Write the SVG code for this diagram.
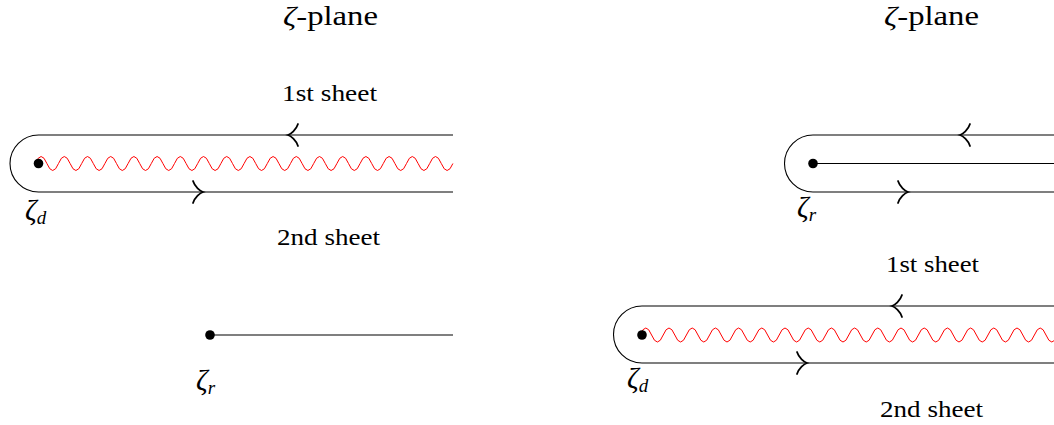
<svg xmlns="http://www.w3.org/2000/svg" width="1054" height="425" viewBox="0 0 1054 425">
<style>
.ln{fill:none;stroke:#000;stroke-width:1.1}
.wv{fill:none;stroke:#ff0000;stroke-width:1}
.ar{fill:none;stroke:#000;stroke-width:1.8;stroke-linecap:round}
.dot{fill:#000}
.t{font-family:"Liberation Serif","DejaVu Serif",serif;font-size:24px;fill:#000}
.tt{font-family:"Liberation Serif","DejaVu Serif",serif;font-size:28px;fill:#000}
.m{font-family:"Liberation Serif","DejaVu Serif",serif;font-style:italic;font-size:29px;fill:#000}
.s{font-size:19px}
</style>
<defs>
<path id="arR" class="ar" d="M-10,-11 C-8,-5 -3,-1 0,0 C-3,1 -8,5 -10,11"/>
<path id="arL" class="ar" d="M10,-11 C8,-5 3,-1 0,0 C3,1 8,5 10,11"/>
</defs>

<g id="titles">
<text class="tt" x="283" y="25" textLength="95" lengthAdjust="spacingAndGlyphs"><tspan font-style="italic">ζ</tspan>-plane</text>
<text class="tt" x="884" y="25" textLength="95" lengthAdjust="spacingAndGlyphs"><tspan font-style="italic">ζ</tspan>-plane</text>
</g>

<g id="connectors">
<path class="wv" d="M35.3,163.5 q5.8,-14 11.6,0 t11.6,0 t11.6,0 t11.6,0 t11.6,0 t11.6,0 t11.6,0 t11.6,0 t11.6,0 t11.6,0 t11.6,0 t11.6,0 t11.6,0 t11.6,0 t11.6,0 t11.6,0 t11.6,0 t11.6,0 t11.6,0 t11.6,0 t11.6,0 t11.6,0 t11.6,0 t11.6,0 t11.6,0 t11.6,0 t11.6,0 t11.6,0 t11.6,0 t11.6,0 t11.6,0 t11.6,0 t11.6,0 t11.6,0 t11.6,0 t11.6,0"/>
<path class="ln" d="M453,135 H38.5 A28.5,28.5 0 0 0 38.5,192 H453"/>
<path class="ln" d="M210,335 H453"/>
<path class="ln" d="M1054,135 H813 A28.5,28.5 0 0 0 813,192 H1054"/>
<path class="ln" d="M813,163.5 H1054"/>
<path class="wv" d="M640,335 q5.8,-14 11.6,0 t11.6,0 t11.6,0 t11.6,0 t11.6,0 t11.6,0 t11.6,0 t11.6,0 t11.6,0 t11.6,0 t11.6,0 t11.6,0 t11.6,0 t11.6,0 t11.6,0 t11.6,0 t11.6,0 t11.6,0 t11.6,0 t11.6,0 t11.6,0 t11.6,0 t11.6,0 t11.6,0 t11.6,0 t11.6,0 t11.6,0 t11.6,0 t11.6,0 t11.6,0 t11.6,0 t11.6,0 t11.6,0 t11.6,0 t11.6,0 t11.6,0 t11.6,0"/>
<path class="ln" d="M1054,306 H642 A28.5,28.5 0 0 0 642,363 H1054"/>
<use href="#arL" x="288" y="135"/>
<use href="#arR" x="203" y="192"/>
<use href="#arL" x="960" y="135"/>
<use href="#arR" x="908" y="192"/>
<use href="#arL" x="892" y="306"/>
<use href="#arR" x="807" y="363"/>
</g>

<g id="node-zeta-d-left">
<circle class="dot" cx="38.5" cy="163.5" r="4.8"/>
<text class="m" x="25" y="220">ζ<tspan class="s" dy="4">d</tspan></text>
</g>
<g id="node-zeta-r-left">
<circle class="dot" cx="210" cy="335" r="4.8"/>
<text class="m" x="196" y="390">ζ<tspan class="s" dy="4">r</tspan></text>
</g>
<g id="node-zeta-r-right">
<circle class="dot" cx="813" cy="163.5" r="4.8"/>
<text class="m" x="797" y="217">ζ<tspan class="s" dy="4">r</tspan></text>
</g>
<g id="node-zeta-d-right">
<circle class="dot" cx="642" cy="335" r="4.8"/>
<text class="m" x="627" y="388">ζ<tspan class="s" dy="4">d</tspan></text>
</g>

<g id="labels">
<text class="t" x="282" y="101" textLength="95" lengthAdjust="spacingAndGlyphs">1st sheet</text>
<text class="t" x="277" y="245" textLength="103" lengthAdjust="spacingAndGlyphs">2nd sheet</text>
<text class="t" x="886" y="272" textLength="93" lengthAdjust="spacingAndGlyphs">1st sheet</text>
<text class="t" x="880" y="417" textLength="103" lengthAdjust="spacingAndGlyphs">2nd sheet</text>
</g>
</svg>
